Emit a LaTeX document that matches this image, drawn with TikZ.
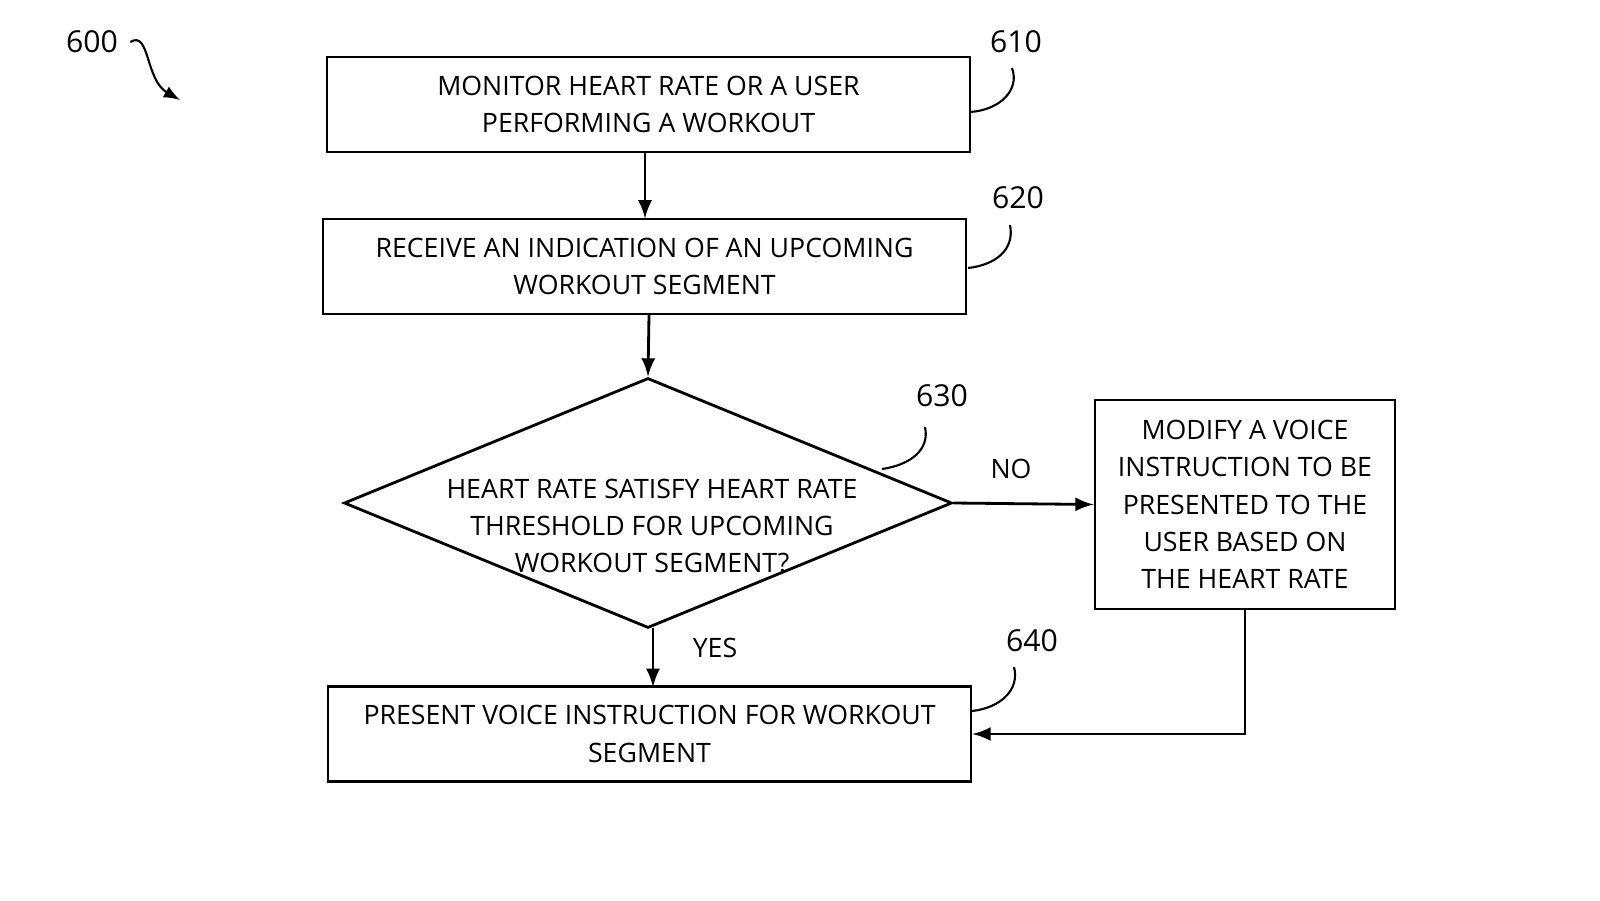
\documentclass[tikz,border=0pt]{standalone}
\usepackage{fontspec}
\setmainfont{Open Sans}
\usetikzlibrary{shapes.geometric}

\tikzset{
  stage/.style={draw, line width=0.8pt, minimum width=6.43cm, minimum height=0.95cm, align=center, font=\fontsize{7.6}{10.6}\selectfont},
  ref/.style={font=\fontsize{8.6}{10}\selectfont},
  flow/.style={thick, -latex},
  lead/.style={line width=0.6pt}
}

\begin{document}
\begin{tikzpicture}
  \useasboundingbox (0,0) rectangle (16,9);
  % boxes
  \path (6.485,7.955) node[stage] (monitor) {MONITOR HEART RATE OR A USER\\PERFORMING A WORKOUT};
  \path (6.445,6.335) node[stage] (receive) {RECEIVE AN INDICATION OF AN UPCOMING\\WORKOUT SEGMENT};
  \path (6.48,3.97) node[draw, line width=0.8pt, diamond, minimum width=6.08cm, minimum height=2.5cm, inner sep=0pt] (check) {};
  \path (6.52,3.74) node[align=center, font=\fontsize{7.6}{10.6}\selectfont] (checktext) {HEART RATE SATISFY HEART RATE\\THRESHOLD FOR UPCOMING\\WORKOUT SEGMENT?};
  \path (12.45,3.955) node[stage, minimum width=3.0cm, minimum height=2.09cm] (modify) {MODIFY A VOICE\\INSTRUCTION TO BE\\PRESENTED TO THE\\USER BASED ON\\THE HEART RATE};
  \path (6.495,1.66) node[stage] (present) {PRESENT VOICE INSTRUCTION FOR WORKOUT\\SEGMENT};
  % reference numerals
  \path (0.92,8.58) node[ref] (n600) {600};
  \path (10.16,8.58) node[ref] (n610) {610};
  \path (10.18,7.02) node[ref] (n620) {620};
  \path (9.42,5.04) node[ref] (n630) {630};
  \path (10.32,2.59) node[ref] (n640) {640};
  \path (10.11,4.31) node[ref, font=\fontsize{7.6}{10}\selectfont] (no) {NO};
  \path (7.15,2.52) node[ref, font=\fontsize{7.6}{10}\selectfont] (yes) {YES};
  % leaders
  \draw[lead, -latex] (n600.east) .. controls (1.5,8.7) and (1.45,8.2) .. (1.8,8.0);
  \draw[lead] (9.70,7.88) .. controls (10.0,7.9) and (10.2,8.1) .. (10.12,8.32);
  \draw[lead] (9.68,6.32) .. controls (9.95,6.35) and (10.15,6.5) .. (10.10,6.75);
  \draw[lead] (8.82,4.31) .. controls (9.1,4.35) and (9.3,4.5) .. (9.25,4.73);
  \draw[lead] (9.72,1.89) .. controls (10.0,1.92) and (10.2,2.1) .. (10.14,2.33);
  % connectors
  \draw[flow] (6.45,7.475) -- (6.45,6.815);
  \draw[flow] (6.49,5.855) -- (check.north);
  \draw[flow] (check.east) -- (modify.west);
  \draw[flow] (6.53,2.72) -- (6.53,2.13);
  \draw[flow] (modify.south) |- (present.east);
\end{tikzpicture}
\end{document}
